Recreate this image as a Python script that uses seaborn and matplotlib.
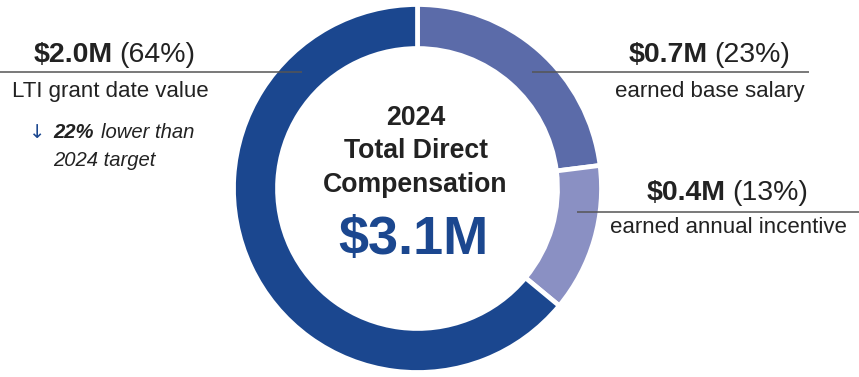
import matplotlib
matplotlib.use("Agg")
import matplotlib.pyplot as plt
import seaborn as sns

# ---- data ----
categories = ["earned base salary", "earned annual incentive", "LTI grant date value"]
shares = [23, 13, 64]
amounts = ["$0.7M", "$0.4M", "$2.0M"]
pct_labels = ["(23%)", "(13%)", "(64%)"]
total_label = "$3.1M"
title_lines = ["2024", "Total Direct", "Compensation"]
note_bold = "22%"
note_line1 = "lower than"
note_line2 = "2024 target"

colors = ["#5b6ba9", "#8a90c3", "#1b478f"]
dark = "#222222"
blue = "#1b478f"

sns.set_theme(style="white")
plt.rcParams["font.family"] = ["Liberation Sans", "DejaVu Sans"]

fig = plt.figure(figsize=(8.59, 3.77), dpi=100)
ax = fig.add_axes([0, 0, 1, 1])

cx, cy, R, W = 417.5, 188.5, 184, 44
ax.pie(shares, colors=colors, startangle=-90, counterclock=True,
       center=(cx, cy), radius=R,
       wedgeprops=dict(width=W, edgecolor="white", linewidth=3.4))
ax.set_xlim(0, 859)
ax.set_ylim(377, 0)
ax.set_aspect("equal", adjustable="box")
ax.axis("off")

# leader lines
lc = "#555555"
ax.plot([0, 302], [72, 72], color=lc, lw=1.1, solid_capstyle="butt")
ax.plot([532, 809], [72, 72], color=lc, lw=1.1, solid_capstyle="butt")
ax.plot([577, 859], [212, 212], color=lc, lw=1.1, solid_capstyle="butt")

big = 20.5
small = 16
note = 14.6

# LTI label (left)
ax.text(113, 62, amounts[2], ha="right", va="baseline", fontsize=big, fontweight="bold", color=dark)
ax.text(119, 62, pct_labels[2], ha="left", va="baseline", fontsize=big, color=dark)
ax.text(110, 97, categories[2], ha="center", va="baseline", fontsize=small, color=dark)
ax.text(37, 138, "↓", ha="center", va="baseline", fontsize=14, color=blue,
        family=["DejaVu Sans"])
ax.text(53, 138, note_bold, ha="left", va="baseline", fontsize=note, fontweight="bold",
        fontstyle="italic", color=dark)
ax.text(101, 138, note_line1, ha="left", va="baseline", fontsize=note, fontstyle="italic", color=dark)
ax.text(53, 166, note_line2, ha="left", va="baseline", fontsize=note, fontstyle="italic", color=dark)

# base salary (upper right)
ax.text(708, 62, amounts[0], ha="right", va="baseline", fontsize=big, fontweight="bold", color=dark)
ax.text(714, 62, pct_labels[0], ha="left", va="baseline", fontsize=big, color=dark)
ax.text(710, 97, categories[0], ha="center", va="baseline", fontsize=small, color=dark)

# annual incentive (lower right)
ax.text(726, 200, amounts[1], ha="right", va="baseline", fontsize=big, fontweight="bold", color=dark)
ax.text(732, 200, pct_labels[1], ha="left", va="baseline", fontsize=big, color=dark)
ax.text(728, 233, categories[1], ha="center", va="baseline", fontsize=small, color=dark)

# centre text
baselines = [125, 158, 192]
for t, b in zip(title_lines, baselines):
    ax.text(cx - 2, b, t, ha="center", va="baseline", fontsize=19.2,
            fontweight="bold", color=dark)
ax.text(cx - 4, 254, total_label, ha="center", va="baseline", fontsize=39,
        fontweight="bold", color=blue)

fig.savefig("out.png", dpi=100)
